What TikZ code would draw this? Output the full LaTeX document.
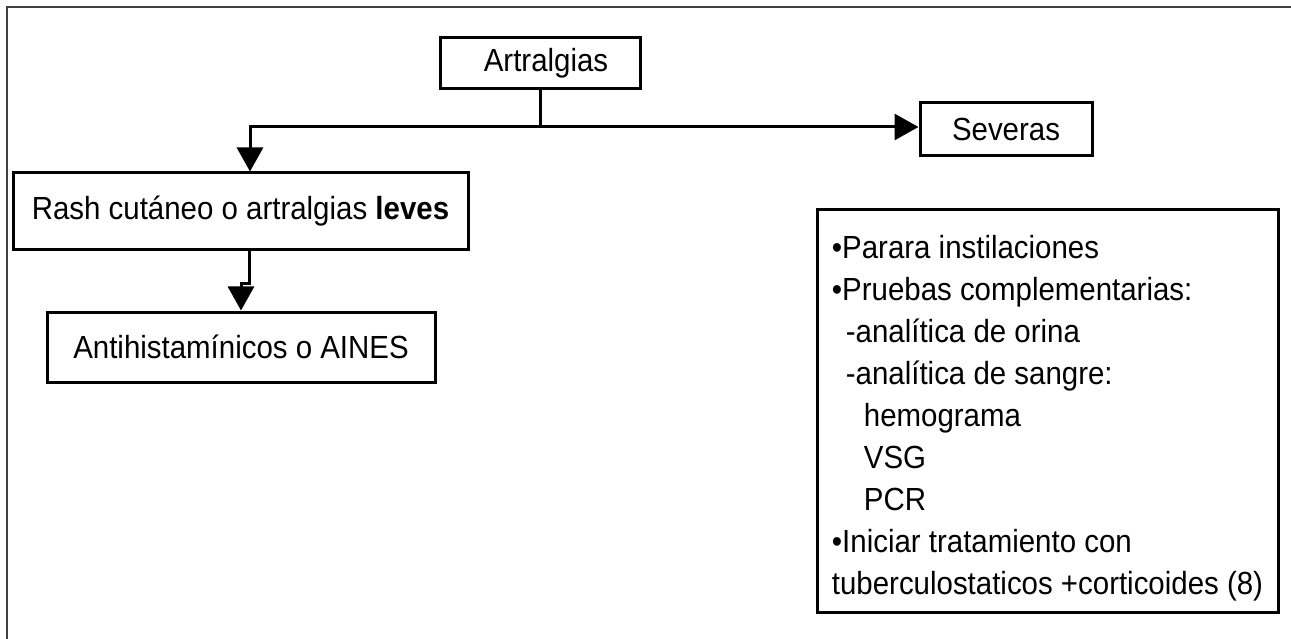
\documentclass[tikz,border=0pt]{standalone}
\usepackage{fontspec}
\setmainfont{Liberation Sans}[FakeStretch=0.92]
\usetikzlibrary{arrows.meta}

\begin{document}
\begin{tikzpicture}[x=1pt, y=-1pt,
every node/.style = {font=\fontsize{32}{42}\selectfont},
      caja/.style args = {#1/#2}{%
      rectangle, draw, line width=3pt, fill=white,
      minimum width=#1, minimum height=#2, inner sep=0pt},
    flecha/.style = {draw=black, line width=3pt,
      -{Triangle[length=24pt,width=26pt]}}
                    ]
\useasboundingbox (0,0) rectangle (1291,639);
\draw[black!75, line width=2pt] (7,639) -- (7,7) -- (1291,7);
%
\node(artralgias) [caja=200pt/51pt] at (540,63.5)  {\hspace*{12pt}Artralgias};
\node(severas)    [caja=172pt/53pt] at (1006,129.5) {Severas};
\node(rash)       [caja=455pt/77pt] at (240.5,211.5)
      {Rash cutáneo o artralgias \textbf{leves}};
\node(antihist)   [caja=388pt/70pt] at (241,347) {Antihistamínicos o AINES};
\node(tratamiento)[caja=461pt/402pt, align=left] at (1047.5,411)
      {\rule{0pt}{37pt}•Parara instilaciones\\
       •Pruebas complementarias:\\
       \hspace*{14pt}-analítica de orina\\
       \hspace*{14pt}-analítica de sangre:\\
       \hspace*{32pt}hemograma\\
       \hspace*{32pt}VSG\\
       \hspace*{32pt}PCR\\
       •Iniciar tratamiento con\\
       tuberculostaticos +corticoides (8)};
\coordinate (cruce) at (540,127);
%
\draw[line width=3pt] (artralgias.south) -- (cruce);
\draw[flecha] (cruce) -- (severas.west |- cruce);
\draw[flecha] (cruce) -| ([xshift=9.5pt]rash.north);
\draw[flecha] ([xshift=8.5pt]rash.south) -- ++(0,32) -| (antihist.north);
\end{tikzpicture}
\end{document}
